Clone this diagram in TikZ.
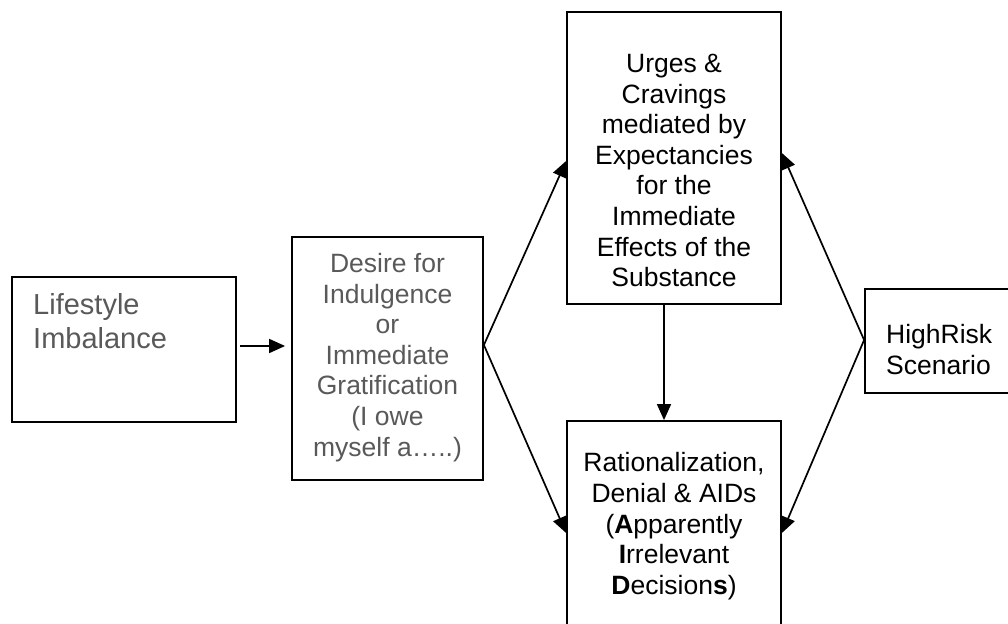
\documentclass[tikz,border=0pt]{standalone}
\usepackage{fontspec}
\setmainfont{Liberation Sans}
\usetikzlibrary{arrows.meta}
\definecolor{gtext}{HTML}{595959}
\begin{document}
\begin{tikzpicture}[x=1pt,y=-1pt,
  box/.style={draw=black,line width=1.8pt,inner sep=0pt,rectangle},
  txt/.style={inner sep=0pt,align=center,font=\fontsize{26.5}{30.6}\selectfont},
  arr/.style={line width=1.7pt,-{Triangle[length=16pt,width=14pt]}}]
\useasboundingbox (0,0) rectangle (1008,623);
\clip (0,0) rectangle (1008,623);
% boxes
\node[box,minimum width=224pt,minimum height=145pt] (life) at (124,349.5) {};
\node[box,minimum width=191pt,minimum height=243pt] (desire) at (387.5,358.5) {};
\node[box,minimum width=214pt,minimum height=292pt] (urges) at (674,158) {};
\node[box,minimum width=214pt,minimum height=229pt] (rat) at (674,535.5) {};
\node[box,minimum width=165pt,minimum height=104pt] (high) at (947.5,341) {};
% texts
\node[txt,anchor=north west,align=left,text=gtext,font=\fontsize{29}{34.5}\selectfont] (lifet) at (33,293) {Lifestyle\\Imbalance};
\node[txt,anchor=north,text=gtext] (desiret) at (387.5,253) {Desire for\\Indulgence\\or\\Immediate\\Gratification\\(I owe\\myself a…..)};
\node[txt,anchor=north] (urgest) at (674,54) {Urges \&\\Cravings\\mediated by\\Expectancies\\for the\\Immediate\\Effects of the\\Substance};
\node[txt,anchor=north] (ratt) at (674,452.5) {Rationalization,\\Denial \& AIDs\\(\textbf{A}pparently\\\textbf{I}rrelevant\\\textbf{D}ecision\textbf{s})};
\node[txt,anchor=north west,align=left] (hight) at (886,324) {HighRisk\\Scenario};
% connectors
\coordinate (dout) at ([yshift=13.5pt]desire.east);
\coordinate (hin) at ([yshift=1pt]high.west);
\draw[arr] ([xshift=3pt,yshift=3.5pt]life.east) -- ([xshift=-6pt,yshift=3.5pt]life.east -| desire.west);
\draw[arr] (dout) -- ([yshift=-3pt]urges.west);
\draw[arr] (dout) -- ([yshift=2.5pt]rat.west);
\draw[arr] (hin) -- ([yshift=5pt]urges.east);
\draw[arr] (hin) -- ([yshift=2.5pt]rat.east);
\draw[arr] ([xshift=-10pt]urges.south) -- ([xshift=-10pt]rat.north);
\end{tikzpicture}
\end{document}
